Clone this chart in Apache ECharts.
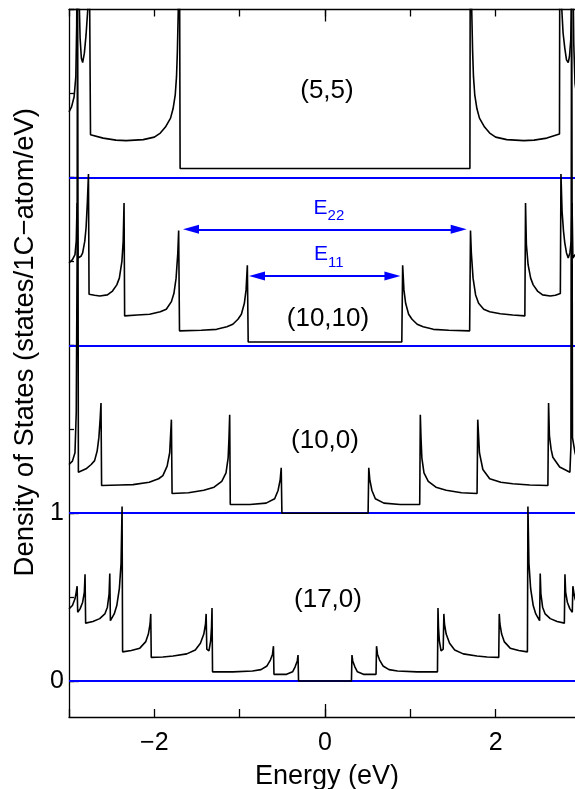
<!DOCTYPE html>
<html><head><meta charset="utf-8">
<script src="https://cdn.jsdelivr.net/npm/echarts@6/dist/echarts.min.js"></script>
<style>html,body{margin:0;padding:0;background:#fff}#c{width:575px;height:789px}</style>
</head><body><div id="c"></div>
<script>
// ---- data (raw density of states, states/1C-atom/eV) ----
const tubeNames = ['(5,5)', '(10,10)', '(10,0)', '(17,0)'];
const tubeOffsets = [3, 2, 1, 0];

const dos_5_5 = [
  [-3.00,0.39],[-2.97,0.42],[-2.94,0.48],[-2.92,0.60],[-2.91,0.90],[-2.902,1.6],[-2.895,1.6],
  [-2.885,1.15],[-2.87,0.83],[-2.855,0.71],[-2.84,0.684],[-2.82,0.74],[-2.80,0.85],[-2.78,1.0],
  [-2.765,1.6],[-2.752,1.6],[-2.748,0.254],[-2.60,0.234],[-2.45,0.222],[-2.33,0.219],[-2.13,0.225],
  [-2.00,0.24],[-1.93,0.264],[-1.87,0.30],[-1.81,0.353],[-1.78,0.41],[-1.755,0.492],[-1.74,0.60],
  [-1.73,0.749],[-1.715,1.1],[-1.706,1.6],[-1.703,1.6],[-1.698,0.053],
  [1.698,0.053],[1.703,1.6],[1.706,1.6],[1.715,1.1],[1.73,0.749],[1.74,0.60],[1.755,0.492],
  [1.78,0.41],[1.81,0.353],[1.87,0.30],[1.93,0.264],[2.00,0.24],[2.13,0.225],[2.33,0.219],
  [2.45,0.222],[2.60,0.234],[2.748,0.258],[2.752,1.6],[2.765,1.6],[2.775,1.0],[2.79,0.86],
  [2.81,0.77],[2.83,0.70],[2.85,0.684],[2.865,0.72],[2.88,0.82],[2.89,1.1],[2.898,1.6],
  [2.905,1.6],[2.915,0.80],[2.93,0.56],[2.96,0.45],[3.00,0.39]
];

const dos_10_10 = [
  [-3.00,0.49],[-2.96,0.51],[-2.93,0.54],[-2.915,0.62],[-2.905,0.848],[-2.895,0.52],[-2.86,0.53],
  [-2.84,0.55],[-2.815,0.62],[-2.80,0.70],[-2.785,0.85],[-2.772,1.02],[-2.765,0.304],[-2.70,0.298],
  [-2.64,0.294],[-2.55,0.30],[-2.49,0.323],[-2.44,0.36],[-2.41,0.40],[-2.38,0.50],[-2.365,0.62],
  [-2.355,0.848],[-2.348,0.175],[-2.20,0.18],[-2.055,0.185],[-1.93,0.20],[-1.86,0.215],[-1.80,0.26],
  [-1.77,0.31],[-1.745,0.40],[-1.725,0.55],[-1.715,0.684],[-1.705,0.086],[-1.45,0.09],[-1.27,0.095],
  [-1.15,0.11],[-1.08,0.125],[-1.02,0.155],[-0.98,0.185],[-0.945,0.25],[-0.925,0.33],[-0.91,0.476],
  [-0.90,0.02],
  [0.90,0.02],[0.91,0.476],[0.925,0.33],[0.945,0.25],[0.98,0.185],[1.02,0.155],[1.08,0.125],
  [1.15,0.11],[1.27,0.095],[1.45,0.09],[1.695,0.086],[1.705,0.684],[1.715,0.55],[1.735,0.40],
  [1.765,0.30],[1.80,0.25],[1.86,0.215],[1.93,0.20],[2.055,0.188],[2.20,0.18],[2.342,0.175],
  [2.35,0.848],[2.36,0.60],[2.38,0.48],[2.41,0.40],[2.44,0.36],[2.49,0.323],[2.55,0.30],
  [2.64,0.294],[2.70,0.298],[2.758,0.308],[2.765,1.02],[2.778,0.80],[2.795,0.68],[2.81,0.61],
  [2.83,0.55],[2.85,0.52],[2.87,0.55],[2.885,0.62],[2.895,0.848],[2.905,0.52],[2.93,0.54],
  [2.96,0.51],[3.00,0.49]
];

const dos_10_0 = [
  [-3.00,0.29],[-2.96,0.31],[-2.93,0.36],[-2.915,0.60],[-2.905,1.5],[-2.90,3.5],[-2.895,3.5],
  [-2.89,0.244],[-2.80,0.264],[-2.74,0.29],[-2.70,0.313],[-2.67,0.37],[-2.65,0.45],[-2.635,0.56],
  [-2.625,0.656],[-2.618,0.165],[-2.40,0.168],[-2.25,0.17],[-2.06,0.184],[-1.95,0.205],[-1.90,0.224],
  [-1.85,0.28],[-1.82,0.36],[-1.80,0.557],[-1.792,0.117],[-1.60,0.122],[-1.42,0.137],[-1.30,0.155],
  [-1.21,0.19],[-1.16,0.24],[-1.135,0.33],[-1.125,0.45],[-1.117,0.586],[-1.11,0.052],[-0.88,0.052],
  [-0.69,0.06],[-0.59,0.086],[-0.55,0.135],[-0.525,0.20],[-0.513,0.27],[-0.505,0.0],
  [0.505,0.0],[0.513,0.27],[0.525,0.20],[0.55,0.135],[0.59,0.086],[0.69,0.06],[0.88,0.052],
  [1.11,0.052],[1.117,0.586],[1.125,0.45],[1.135,0.33],[1.16,0.24],[1.21,0.19],[1.30,0.155],
  [1.42,0.137],[1.60,0.122],[1.782,0.117],[1.79,0.557],[1.81,0.36],[1.85,0.26],[1.93,0.205],
  [2.06,0.184],[2.20,0.175],[2.40,0.168],[2.612,0.165],[2.62,0.656],[2.63,0.46],[2.65,0.38],
  [2.67,0.333],[2.75,0.275],[2.87,0.244],[2.882,0.40],[2.89,3.5],[2.895,3.5],[2.90,0.45],
  [2.93,0.36],[2.96,0.31],[3.00,0.29]
];

const dos_17_0 = [
  [-3.00,0.43],[-2.96,0.45],[-2.93,0.49],[-2.915,0.53],[-2.905,0.565],[-2.898,0.41],[-2.87,0.43],
  [-2.84,0.47],[-2.82,0.53],[-2.812,0.636],[-2.805,0.345],[-2.72,0.355],[-2.64,0.372],[-2.58,0.40],
  [-2.55,0.44],[-2.53,0.52],[-2.522,0.64],[-2.515,0.36],[-2.47,0.40],[-2.44,0.45],[-2.41,0.55],
  [-2.39,0.70],[-2.378,1.04],[-2.372,0.174],[-2.27,0.182],[-2.17,0.196],[-2.10,0.235],[-2.07,0.28],
  [-2.05,0.34],[-2.042,0.40],[-2.036,0.141],[-1.90,0.143],[-1.78,0.149],[-1.62,0.162],[-1.52,0.185],
  [-1.46,0.225],[-1.42,0.28],[-1.40,0.34],[-1.393,0.40],[-1.385,0.19],[-1.36,0.18],[-1.34,0.24],
  [-1.33,0.32],[-1.324,0.435],[-1.318,0.055],[-1.08,0.055],[-0.85,0.06],[-0.75,0.068],[-0.68,0.09],
  [-0.64,0.125],[-0.615,0.16],[-0.604,0.208],[-0.598,0.04],[-0.45,0.04],[-0.38,0.055],[-0.35,0.085],
  [-0.325,0.12],[-0.316,0.155],[-0.31,0.0],
  [0.31,0.0],[0.316,0.155],[0.325,0.12],[0.35,0.085],[0.38,0.055],[0.45,0.04],[0.598,0.04],
  [0.604,0.208],[0.615,0.16],[0.64,0.125],[0.68,0.09],[0.75,0.068],[0.85,0.06],[1.08,0.055],
  [1.318,0.055],[1.324,0.435],[1.33,0.32],[1.34,0.24],[1.36,0.18],[1.385,0.19],[1.393,0.40],
  [1.40,0.34],[1.42,0.28],[1.46,0.225],[1.52,0.185],[1.62,0.162],[1.78,0.149],[1.90,0.143],
  [2.036,0.141],[2.042,0.40],[2.05,0.34],[2.07,0.28],[2.10,0.235],[2.17,0.196],[2.27,0.182],
  [2.372,0.174],[2.378,1.04],[2.39,0.70],[2.41,0.55],[2.44,0.45],[2.47,0.40],[2.515,0.36],
  [2.522,0.64],[2.53,0.52],[2.55,0.44],[2.58,0.40],[2.64,0.372],[2.72,0.355],[2.805,0.345],
  [2.812,0.636],[2.82,0.53],[2.84,0.47],[2.87,0.43],[2.898,0.41],[2.905,0.565],[2.915,0.53],
  [2.93,0.49],[2.96,0.45],[3.00,0.43]
];

const tubeData = [dos_5_5, dos_10_10, dos_10_0, dos_17_0];

const xTickValues = [-3, -2, -1, 0, 1, 2, 3];
const xLabelValues = [-2, 0, 2];
const yTickValues = [0, 0.5, 1, 1.5, 2, 2.5, 3, 3.5, 4];
const yMajorTickValues = [0, 1, 2, 3, 4];
const yLabelValues = [0, 1];
const transitionNames = ['22', '11'];

// ---- chart ----
const FONT = '"Liberation Sans", Arial, Helvetica, sans-serif';
const BLUE = '#0000ff';
const chart = echarts.init(document.getElementById('c'), null, {renderer: 'canvas'});
const minus = v => (v < 0 ? '\u2212' + Math.abs(v) : String(v));

const curveSeries = tubeData.map((d, i) => ({
  type: 'line',
  name: tubeNames[i],
  data: d.map(p => [p[0], p[1] + tubeOffsets[i]]),
  showSymbol: false,
  symbol: 'none',
  clip: true,
  lineStyle: {color: '#000', width: 1.6},
  z: 5,
  silent: true
}));

const AX = {color: '#000', width: 1.3};
const option = {
  animation: false,
  backgroundColor: '#fff',
  textStyle: {fontFamily: FONT},
  grid: {left: 69, right: -6, top: 9.5, bottom: 72, containLabel: false, outerBoundsMode: 'none'},
  xAxis: [
    {
      type: 'value', position: 'bottom', min: -3, max: 3, interval: 1,
      axisLine: {show: true, onZero: false, lineStyle: AX},
      axisTick: {show: true, inside: true, length: 8, customValues: xTickValues, lineStyle: AX},
      axisLabel: {show: true, customValues: xLabelValues, formatter: minus, fontSize: 25, color: '#000', margin: 14, fontFamily: FONT},
      splitLine: {show: false},
      name: 'Energy (eV)', nameLocation: 'middle', nameGap: 46,
      nameTextStyle: {fontSize: 27, color: '#000', fontFamily: FONT, padding: [0, 0, 0, 4]}
    },
    {
      type: 'value', position: 'top', min: -3, max: 3, interval: 1,
      axisLine: {show: true, onZero: false, lineStyle: AX},
      axisTick: {show: true, inside: true, length: 7, customValues: xTickValues, lineStyle: AX},
      axisLabel: {show: false}, splitLine: {show: false}
    },
    {
      type: 'value', position: 'bottom', min: -3, max: 3, interval: 1,
      axisLine: {show: false, onZero: false},
      axisTick: {show: true, inside: true, length: 13, customValues: [0], lineStyle: AX},
      axisLabel: {show: false}, splitLine: {show: false}
    },
    {
      type: 'value', position: 'top', min: -3, max: 3, interval: 1,
      axisLine: {show: false, onZero: false},
      axisTick: {show: true, inside: true, length: 12, customValues: [0], lineStyle: AX},
      axisLabel: {show: false}, splitLine: {show: false}
    }
  ],
  yAxis: [
    {
      type: 'value', position: 'left', min: -0.214, max: 4,
      axisLine: {show: true, onZero: false, lineStyle: AX},
      axisTick: {show: true, inside: true, length: 5, customValues: yTickValues, lineStyle: AX},
      axisLabel: {show: true, customValues: yLabelValues, fontSize: 25, color: '#000', margin: 5, fontFamily: FONT},
      splitLine: {show: false},
      name: 'Density of States (states/1C\u2212atom/eV)', nameLocation: 'middle', nameGap: 26,
      nameTextStyle: {fontSize: 27.5, color: '#000', fontFamily: FONT, padding: [0, 0, 0, 42]}
    },
    {
      type: 'value', position: 'left', min: -0.214, max: 4,
      axisLine: {show: false, onZero: false},
      axisTick: {show: true, inside: true, length: 10, customValues: yMajorTickValues, lineStyle: AX},
      axisLabel: {show: false}, splitLine: {show: false}
    }
  ],
  series: [
    {
      type: 'line', data: [], silent: true, z: 2,
      markLine: {
        silent: true, symbol: ['none', 'none'], animation: false,
        label: {show: false},
        lineStyle: {color: BLUE, width: 1.8, type: 'solid'},
        data: tubeOffsets.map(o => ({yAxis: o}))
      }
    },
    ...curveSeries,
    {
      type: 'line', data: [], silent: true, z: 6,
      markLine: {
        silent: true, animation: false,
        symbol: ['triangle', 'triangle'], symbolSize: [9, 16],
        lineStyle: {color: BLUE, width: 1.8, type: 'solid'},
        label: {
          show: true, position: 'middle', distance: 6,
          formatter: p => '{e|E}{s|' + p.name + '}',
          rich: {
            e: {fontSize: 21, color: BLUE, fontFamily: FONT, verticalAlign: 'top', padding: [0, 0, 5, 8]},
            s: {fontSize: 15, color: BLUE, fontFamily: FONT, verticalAlign: 'bottom'}
          }
        },
        data: [
          [{name: transitionNames[0], coord: [-1.57, 2.691]}, {coord: [1.567, 2.691]}],
          [{name: transitionNames[1], coord: [-0.797, 2.412]}, {coord: [0.790, 2.412]}]
        ]
      }
    },
    {
      type: 'scatter', silent: true, z: 7, symbolSize: 0,
      itemStyle: {opacity: 1, color: '#000'},
      label: {
        show: true, position: 'inside', formatter: p => p.name, opacity: 1,
        fontSize: 26, color: '#000', fontFamily: FONT, textBorderWidth: 0
      },
      data: [
        {name: tubeNames[0], value: [0.023, 3.514]},
        {name: tubeNames[1], value: [0.035, 2.155]},
        {name: tubeNames[2], value: [0.0, 1.428]},
        {name: tubeNames[3], value: [0.035, 0.486]}
      ]
    }
  ]
};
chart.setOption(option);
</script></body></html>
